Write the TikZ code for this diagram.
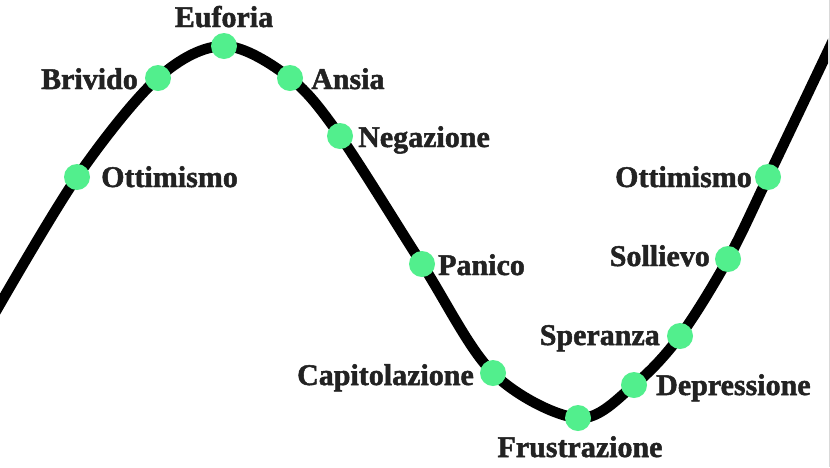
\documentclass[tikz,border=0pt]{standalone}
\usepackage{fontspec}
\setmainfont{Liberation Serif}[BoldFeatures={FakeBold=1.6}]
\definecolor{dotgreen}{RGB}{82,239,141}
\definecolor{txt}{RGB}{34,34,34}
\begin{document}
\begin{tikzpicture}[x=1pt,y=-1pt,
  dot/.style={circle,fill=dotgreen,minimum size=26pt,inner sep=0pt},
  lbl/.style={text=txt,font=\fontsize{30}{34}\selectfont\bfseries,inner sep=0pt},
  curve/.style={line width=10.5pt,black}]
\useasboundingbox (0,0) rectangle (830,467);
\fill[white] (0,0) rectangle (830,467);
\draw[gray!30,line width=1pt] (829,0) -- (829,467);
\coordinate (s) at (-8,318);
\coordinate (e) at (838,30);
\coordinate (d1) at (77,177);
\coordinate (d2) at (158,78);
\coordinate (d3) at (224,46);
\coordinate (d4) at (290,78);
\coordinate (d5) at (340,136);
\coordinate (d6) at (422,264);
\coordinate (d7) at (493,373);
\coordinate (d8) at (578,418);
\coordinate (d9) at (634,385);
\coordinate (d10) at (680,336);
\coordinate (d11) at (728,259);
\coordinate (d12) at (768,177);
\begin{scope}
\clip (0,0) rectangle (828,467);
\draw[curve] plot[smooth,tension=0.55] coordinates {(s) (d1) (d2) (d3) (d4) (d5) (d6) (d7) (d8) (d9) (d10) (d11) (d12) (e)};
\end{scope}
\foreach \i in {1,...,12} \node[dot] (n\i) at (d\i) {};
\node[lbl,anchor=base] (l3) at (224,27) {Euforia};
\node[lbl,anchor=base east] (l2) at (138,89) {Brivido};
\node[lbl,anchor=base west] (l4) at (311,89) {Ansia};
\node[lbl,anchor=base west] (l5) at (358,147) {Negazione};
\node[lbl,anchor=base west] (l1) at (101,187) {Ottimismo};
\node[lbl,anchor=base east] (l12) at (752,187) {Ottimismo};
\node[lbl,anchor=base west] (l6) at (438,275) {Panico};
\node[lbl,anchor=base east] (l11) at (710,266) {Sollievo};
\node[lbl,anchor=base east] (l10) at (660,345) {Speranza};
\node[lbl,anchor=base east] (l7) at (474,385) {Capitolazione};
\node[lbl,anchor=base west] (l9) at (656,395) {Depressione};
\node[lbl,anchor=base] (l8) at (580,457) {Frustrazione};
\end{tikzpicture}
\end{document}
